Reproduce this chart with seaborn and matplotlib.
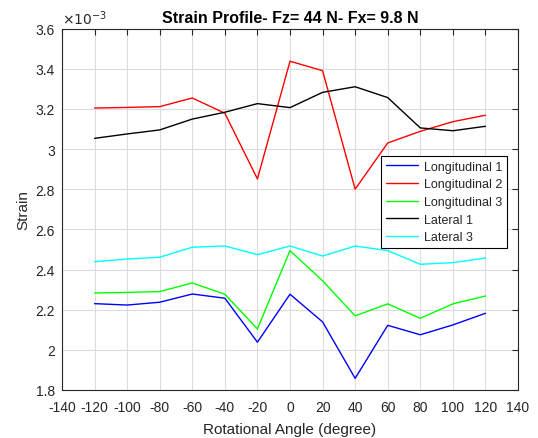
import numpy as np
import pandas as pd
import matplotlib
matplotlib.use("Agg")
import matplotlib.pyplot as plt
import seaborn as sns
from matplotlib.ticker import FuncFormatter, MultipleLocator

angles = [-120, -100, -80, -60, -40, -20, 0, 20, 40, 60, 80, 100, 120]
long1 = [2.230, 2.223, 2.237, 2.278, 2.257, 2.038, 2.277, 2.139, 1.858, 2.122, 2.075, 2.124, 2.182]
long2 = [3.204, 3.207, 3.211, 3.254, 3.178, 2.851, 3.437, 3.390, 2.800, 3.030, 3.088, 3.136, 3.168]
long3 = [2.283, 2.286, 2.290, 2.333, 2.277, 2.104, 2.494, 2.344, 2.169, 2.229, 2.157, 2.229, 2.268]
lat1 = [3.053, 3.075, 3.095, 3.149, 3.183, 3.226, 3.206, 3.282, 3.310, 3.256, 3.105, 3.091, 3.113]
lat3 = [2.439, 2.452, 2.461, 2.511, 2.517, 2.474, 2.517, 2.467, 2.517, 2.494, 2.426, 2.434, 2.457]
series_names = ["Longitudinal 1", "Longitudinal 2", "Longitudinal 3", "Lateral 1", "Lateral 3"]
colors = ["#0000ff", "#ff0000", "#00ff00", "#000000", "#00ffff"]

rows = []
for name, vals in zip(series_names, [long1, long2, long3, lat1, lat3]):
    for a, v in zip(angles, vals):
        rows.append({"angle": a, "strain": v * 1e-3, "series": name})
df = pd.DataFrame(rows)

sns.set_theme(style="white")
plt.rcParams['font.family'] = ['Liberation Sans', 'DejaVu Sans']

fig = plt.figure(figsize=(5.38, 4.39), dpi=100)
fig.patch.set_facecolor("white")
ax = fig.add_axes([62/538, 48/439, 456/538, 361.5/439])

sns.lineplot(data=df, x="angle", y="strain", hue="series", hue_order=series_names,
             palette=colors, linewidth=1.0, ax=ax, sort=False)

ax.set_xlim(-140, 140)
ax.set_ylim(1.8e-3, 3.6e-3)
ax.xaxis.set_major_locator(MultipleLocator(20))
ax.yaxis.set_major_locator(MultipleLocator(0.2e-3))
ax.yaxis.set_major_formatter(FuncFormatter(lambda v, p: "%g" % round(v * 1e3, 4)))
ax.xaxis.set_major_formatter(FuncFormatter(lambda v, p: "%g" % v))

dark = "#262626"
ax.grid(True, color="#dcdcdc", linewidth=0.8)
ax.set_axisbelow(True)
for s in ax.spines.values():
    s.set_color(dark)
    s.set_linewidth(0.8)
ax.tick_params(direction="in", length=4, width=0.8, colors=dark, labelsize=10,
               top=True, right=True, labelcolor=dark)
ax.tick_params(axis="x", pad=7)
ax.tick_params(axis="y", pad=5)

ax.set_xlabel("Rotational Angle (degree)", fontsize=11, color=dark, labelpad=6)
ax.set_ylabel("Strain", fontsize=11, color=dark)
ax.set_title("Strain Profile- Fz= 44 N- Fx= 9.8 N", fontsize=11.5, fontweight="bold", color="black", pad=5)
ax.text(0.0, 1.005, r"$\times10^{-3}$", transform=ax.transAxes, fontsize=10, color=dark,
        ha="left", va="bottom")

leg = ax.legend(loc="upper right", bbox_to_anchor=(0.976, 0.646), fontsize=9,
                frameon=True, fancybox=False, framealpha=1, edgecolor="black",
                handlelength=2.6, borderpad=0.35, labelspacing=0.45, handletextpad=0.5,
                borderaxespad=0)
leg.get_frame().set_linewidth(0.8)

fig.savefig("out.png", dpi=100)
